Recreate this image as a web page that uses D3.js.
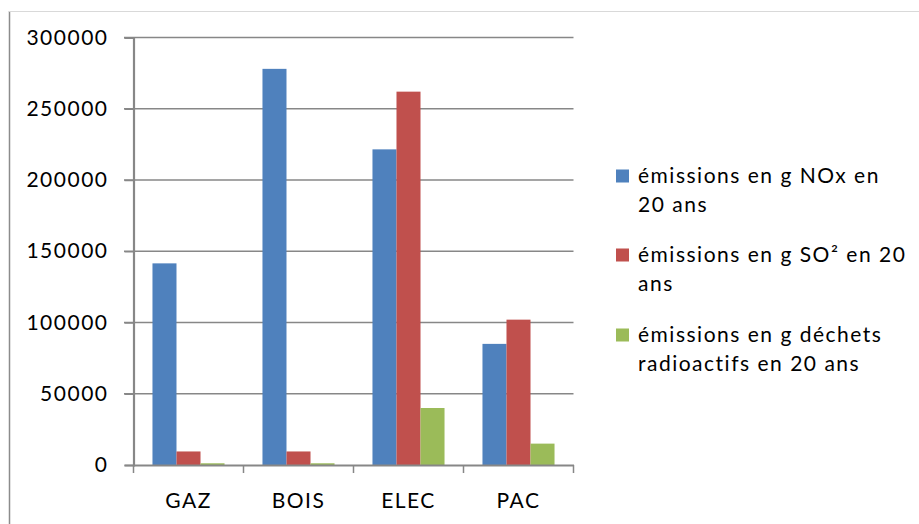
<!DOCTYPE html>
<html>
<head>
<meta charset="utf-8">
<script src="https://cdn.jsdelivr.net/npm/d3@7"></script>
<style>
  body { margin: 0; background: #fff; }
  svg text { font-family: Lato, "Open Sans", sans-serif; fill: #000; }
</style>
</head>
<body>
<svg id="svg" width="919" height="524"></svg>
<script>
const categories = ["GAZ", "BOIS", "ELEC", "PAC"];
const nox = [141500, 278000, 221500, 85000];
const so2 = [9500, 9500, 262000, 102000];
const dechets = [1200, 1200, 40000, 15000];
const yTicks = [0, 50000, 100000, 150000, 200000, 250000, 300000];
const seriesNames = [
  ["émissions en g NOx en", "20 ans"],
  ["émissions en g SO² en 20", "ans"],
  ["émissions en g déchets", "radioactifs en 20 ans"]
];
const colors = ["#4F81BD", "#C0504D", "#9BBB59"];
const seriesValues = [nox, so2, dechets];

const svg = d3.select("#svg");
const axisColor = "#878787";
const fs = 21;
const ls = "1.5px";

// chart frame (left edge and top edge visible)
svg.append("line").attr("x1", 9.5).attr("x2", 9.5).attr("y1", 11).attr("y2", 524)
  .attr("stroke", "#8c8c8c").attr("stroke-width", 1.5);
svg.append("line").attr("x1", 9).attr("x2", 919).attr("y1", 11.5).attr("y2", 11.5)
  .attr("stroke", "#d9d9d9").attr("stroke-width", 1);

const x = d3.scaleBand().domain(categories).range([133.5, 573.5]);
const xSub = d3.scaleBand().domain([0, 1, 2]).range([0, x.bandwidth()]).paddingOuter(0.79);
const y = d3.scaleLinear().domain([0, 300000]).range([465, 37.5]);

// gridlines
svg.append("g")
  .selectAll("line")
  .data(yTicks.filter((d) => d > 0))
  .enter()
  .append("line")
  .attr("x1", 124)
  .attr("x2", 573.5)
  .attr("y1", (d) => y(d))
  .attr("y2", (d) => y(d))
  .attr("stroke", axisColor)
  .attr("stroke-width", 1.5);

// y axis
const yAxis = svg.append("g")
  .attr("transform", "translate(133.5,0)")
  .call(d3.axisLeft(y).tickValues(yTicks).tickSize(9).tickPadding(16).tickFormat(d3.format("d")));
yAxis.select(".domain").attr("stroke", axisColor).attr("stroke-width", 2.2);
yAxis.selectAll(".tick line").attr("stroke", axisColor).attr("stroke-width", 1.5);
yAxis.selectAll(".tick text")
  .style("font-family", "Lato, sans-serif")
  .style("font-size", fs + "px")
  .style("letter-spacing", ls)
  .attr("fill", "#000");

// bars
const groups = svg.append("g")
  .selectAll("g")
  .data(categories)
  .enter()
  .append("g")
  .attr("transform", (d) => `translate(${x(d)},0)`);

groups.selectAll("rect")
  .data((d, i) => seriesValues.map((s, k) => ({ k, v: s[i] })))
  .enter()
  .append("rect")
  .attr("x", (d) => xSub(d.k))
  .attr("width", xSub.bandwidth())
  .attr("y", (d) => y(d.v))
  .attr("height", (d) => y(0) - y(d.v))
  .attr("fill", (d) => colors[d.k]);

// x axis
const xAxis = svg.append("g")
  .attr("transform", `translate(0,${y(0)})`)
  .call(d3.axisBottom(x).tickSize(0).tickPadding(28));
xAxis.select(".domain").attr("stroke", axisColor).attr("stroke-width", 2.2);
xAxis.selectAll(".tick text")
  .style("font-family", "Lato, sans-serif")
  .style("font-size", fs + "px")
  .style("letter-spacing", ls)
  .attr("fill", "#000");
xAxis.selectAll("line.bound")
  .data(categories.map((c) => x(c)).concat([x.range()[1]]))
  .enter()
  .append("line")
  .attr("class", "bound")
  .attr("x1", (d) => d)
  .attr("x2", (d) => d)
  .attr("y1", 0)
  .attr("y2", 8)
  .attr("stroke", axisColor)
  .attr("stroke-width", 1.5);

// legend
const legendTop = [176, 255, 335];
const legend = svg.append("g")
  .selectAll("g")
  .data(seriesNames)
  .enter()
  .append("g")
  .attr("transform", (d, i) => `translate(616,${legendTop[i]})`);

legend.append("rect")
  .attr("x", 0)
  .attr("y", -6.5)
  .attr("width", 13)
  .attr("height", 13)
  .attr("fill", (d, i) => colors[i]);

legend.append("text")
  .style("font-size", fs + "px")
  .style("letter-spacing", ls)
  .selectAll("tspan")
  .data((d) => d)
  .enter()
  .append("tspan")
  .attr("x", 22)
  .attr("y", (d, j) => j * 29)
  .attr("dy", "0.35em")
  .text((d) => d);
</script>
</body>
</html>
